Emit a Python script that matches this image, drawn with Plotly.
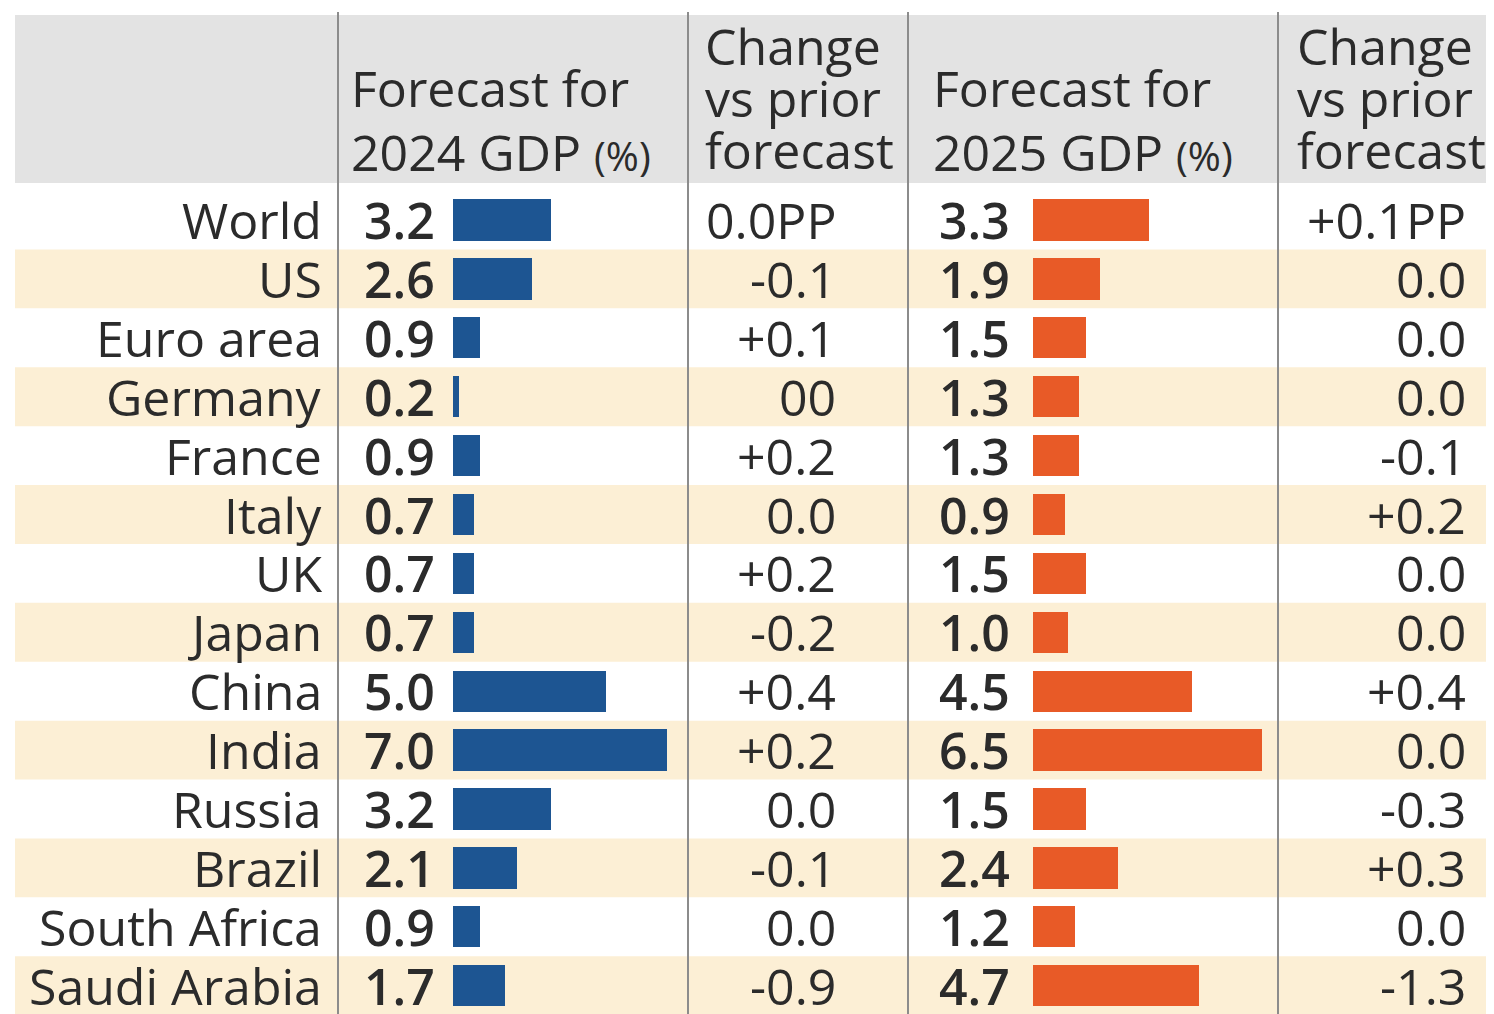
import plotly.graph_objects as go

# ---------------- data ----------------
countries = ["World", "US", "Euro area", "Germany", "France", "Italy", "UK",
             "Japan", "China", "India", "Russia", "Brazil", "South Africa", "Saudi Arabia"]
gdp_2024 = [3.2, 2.6, 0.9, 0.2, 0.9, 0.7, 0.7, 0.7, 5.0, 7.0, 3.2, 2.1, 0.9, 1.7]
chg_2024 = ["0.0PP", "-0.1", "+0.1", "00", "+0.2", "0.0", "+0.2", "-0.2",
            "+0.4", "+0.2", "0.0", "-0.1", "0.0", "-0.9"]
gdp_2025 = [3.3, 1.9, 1.5, 1.3, 1.3, 0.9, 1.5, 1.0, 4.5, 6.5, 1.5, 2.4, 1.2, 4.7]
chg_2025 = ["+0.1PP", "0.0", "0.0", "0.0", "-0.1", "+0.2", "0.0", "0.0",
            "+0.4", "0.0", "-0.3", "+0.3", "0.0", "-1.3"]
headers_2024 = ["Forecast for", "2024 GDP"]
headers_2025 = ["Forecast for", "2025 GDP"]
headers_chg = ["Change", "vs prior", "forecast"]

# ---------------- styling ----------------
W, H = 1494, 1014
OFF = 8             # page offset of the figure (body margin)
FONT = "Open Sans"
TXT = "#2b2b2b"
BLUE = "#1d5592"
ORANGE = "#e85a27"
BEIGE = "#fcefd5"
HEAD = "#e3e3e3"
LINE = "#8c8c8c"
FS = 50

ROW0_PX = 220.0     # page-pixel centre of first row
ROW_PX = 58.9       # row height in pixels


def py(p):
    """page pixel y -> row-axis coordinate"""
    return (p - ROW0_PX) / ROW_PX


n = len(countries)
rows = list(range(n))

fig = go.Figure()

fig.add_trace(go.Bar(
    x=gdp_2024, y=rows, orientation="h", xaxis="x2", yaxis="y",
    marker=dict(color=BLUE, line=dict(width=0)), width=0.7,
    hoverinfo="skip", showlegend=False))
fig.add_trace(go.Bar(
    x=gdp_2025, y=rows, orientation="h", xaxis="x3", yaxis="y",
    marker=dict(color=ORANGE, line=dict(width=0)), width=0.7,
    hoverinfo="skip", showlegend=False))

shapes = []
shapes.append(dict(type="rect", xref="x", yref="y", x0=15, x1=W + OFF,
                   y0=py(15), y1=py(183), fillcolor=HEAD, line=dict(width=0),
                   layer="below"))
for i in rows:
    if i % 2 == 1:
        shapes.append(dict(type="rect", xref="x", yref="y", x0=15, x1=W + OFF,
                           y0=i - 0.5, y1=i + 0.5, fillcolor=BEIGE,
                           line=dict(width=0), layer="below"))
for xv in [338, 688, 908, 1278]:
    shapes.append(dict(type="line", xref="x", yref="y", x0=xv, x1=xv,
                       y0=py(12), y1=py(H + 20), line=dict(color=LINE, width=2),
                       layer="below"))

ann = []


def add(text, x, y, anchor, size=FS, weight=400):
    ann.append(dict(text=text, x=x, y=y, xref="x", yref="y", xanchor=anchor,
                    yanchor="middle", showarrow=False,
                    font=dict(family=FONT, size=size, color=TXT, weight=weight)))


for i in rows:
    add(countries[i], 324, i, "right")
    add(f"{gdp_2024[i]:.1f}", 362, i, "left", weight=600)
    add(chg_2024[i], 838, i, "right")
    add(f"{gdp_2025[i]:.1f}", 937, i, "left", weight=600)
    add(chg_2025[i], 1468, i, "right")

pct = " <span style='font-size:40px'>(%)</span>"
add(headers_2024[0], 349, py(88), "left")
add(headers_2024[1] + pct, 349, py(152), "left")
add(headers_2025[0], 931, py(88), "left")
add(headers_2025[1] + pct, 931, py(152), "left")
for k, yy in enumerate([46, 98, 150]):
    add(headers_chg[k], 703, py(yy), "left")
    add(headers_chg[k], 1295, py(yy), "left")

fig.update_layout(
    width=W, height=H,
    margin=dict(l=0, r=0, t=0, b=0),
    paper_bgcolor="white", plot_bgcolor="rgba(0,0,0,0)",
    bargap=0, barmode="overlay",
    xaxis=dict(domain=[0, 1], range=[OFF, W + OFF], visible=False, fixedrange=True),
    xaxis2=dict(domain=[(453 - OFF) / W, (690 - OFF) / W], range=[0, 237 / 30.5],
                anchor="y", visible=False, fixedrange=True),
    xaxis3=dict(domain=[(1033 - OFF) / W, (1278 - OFF) / W], range=[0, 245 / 35.3],
                anchor="y", visible=False, fixedrange=True),
    yaxis=dict(domain=[0, 1], range=[py(H + OFF), py(OFF)], visible=False,
               fixedrange=True),
    shapes=shapes, annotations=ann,
    font=dict(family=FONT, color=TXT),
)

fig.write_html("out.html")
